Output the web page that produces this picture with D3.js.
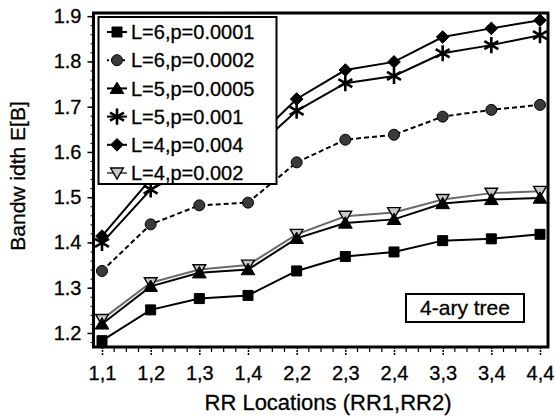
<!DOCTYPE html>
<html>
<head>
<meta charset="utf-8">
<script src="https://cdn.jsdelivr.net/npm/d3@7"></script>
<style>
  body { margin: 0; background: #fff; }
  svg { display: block; font-family: "Liberation Sans", Arial, sans-serif; }
</style>
</head>
<body>
<script>
// RR location pairs on the x axis
var categories = ["1,1", "1,2", "1,3", "1,4", "2,2", "2,3", "2,4", "3,3", "3,4", "4,4"];
var yTicks = [1.2, 1.3, 1.4, 1.5, 1.6, 1.7, 1.8, 1.9];

// series values
var sqVals   = [1.183, 1.251, 1.276, 1.283, 1.337, 1.369, 1.379, 1.404, 1.408, 1.418];
var circVals = [1.337, 1.440, 1.482, 1.488, 1.577, 1.627, 1.638, 1.678, 1.693, 1.704];
var triVals  = [1.220, 1.303, 1.333, 1.340, 1.409, 1.443, 1.451, 1.486, 1.495, 1.498];
var starVals = [1.399, 1.517, 1.575, 1.593, 1.691, 1.752, 1.768, 1.818, 1.836, 1.858];
var diaVals  = [1.414, 1.540, 1.595, 1.613, 1.717, 1.781, 1.799, 1.854, 1.873, 1.891];
var invVals  = [1.230, 1.311, 1.340, 1.350, 1.418, 1.458, 1.466, 1.495, 1.509, 1.513];

var labels = ["L=6,p=0.0001", "L=6,p=0.0002", "L=5,p=0.0005", "L=5,p=0.001", "L=4,p=0.004", "L=4,p=0.002"];

var width = 555, height = 420;
var plotL = 93.5, plotR = 548, plotT = 13, plotB = 347;

var svg = d3.select("body").append("svg")
    .attr("width", width)
    .attr("height", height);

var x = d3.scalePoint().domain(categories).range([102, 540]);
var y = d3.scaleLinear().domain([1.169, 1.907]).range([plotB, plotT]);

// custom marker shapes
var asterisk = {
  draw: function(ctx, size) {
    var r = Math.sqrt(size) / 2;
    for (var k = 0; k < 3; k++) {
      var a = Math.PI / 2 + k * Math.PI / 3;
      ctx.moveTo(r * Math.cos(a), r * Math.sin(a));
      ctx.lineTo(-r * Math.cos(a), -r * Math.sin(a));
    }
  }
};
var invTriangle = {
  draw: function(ctx, size) {
    var h = Math.sqrt(size);
    ctx.moveTo(-h * 0.58, -h * 0.45);
    ctx.lineTo(h * 0.58, -h * 0.45);
    ctx.lineTo(0, h * 0.55);
    ctx.closePath();
  }
};
var upTriangle = {
  draw: function(ctx, size) {
    var h = Math.sqrt(size);
    ctx.moveTo(-h * 0.6, h * 0.45);
    ctx.lineTo(h * 0.6, h * 0.45);
    ctx.lineTo(0, -h * 0.55);
    ctx.closePath();
  }
};
var diamond = {
  draw: function(ctx, size) {
    var r = Math.sqrt(size) / 2;
    ctx.moveTo(0, -r);
    ctx.lineTo(r, 0);
    ctx.lineTo(0, r);
    ctx.lineTo(-r, 0);
    ctx.closePath();
  }
};

var series = [
  {name: labels[0], vals: sqVals,   sym: d3.symbolSquare, size: 100, fill: "#000", stroke: "#000", sw: 1,   line: "#000", dash: null},
  {name: labels[1], vals: circVals, sym: d3.symbolCircle, size: 95,  fill: "#3a3a3a", stroke: "#000", sw: 1, line: "#000", dash: "5,3"},
  {name: labels[2], vals: triVals,  sym: upTriangle,      size: 130, fill: "#000", stroke: "#000", sw: 1,   line: "#000", dash: null},
  {name: labels[3], vals: starVals, sym: asterisk,        size: 260, fill: "none", stroke: "#000", sw: 2.6, line: "#000", dash: null},
  {name: labels[4], vals: diaVals,  sym: diamond,         size: 160, fill: "#000", stroke: "#000", sw: 1,   line: "#000", dash: null},
  {name: labels[5], vals: invVals,  sym: invTriangle,     size: 120, fill: "#c8c8c8", stroke: "#000", sw: 1.4, line: "#6a6a6a", dash: null}
];

// y axis: minor then major ticks
var minorY = d3.range(1.18, 1.905, 0.02).map(function(d) { return +d.toFixed(2); });
svg.append("g")
    .attr("transform", "translate(" + plotL + ",0)")
    .call(d3.axisLeft(y).tickValues(minorY).tickSize(3).tickFormat(""))
    .call(function(g) { g.select(".domain").remove(); });

var yAxis = svg.append("g")
    .attr("transform", "translate(" + plotL + ",0)")
    .call(d3.axisLeft(y).tickValues(yTicks).tickSize(6).tickPadding(6).tickFormat(d3.format(".1f")));
yAxis.select(".domain").remove();
yAxis.selectAll(".tick line").attr("stroke-width", 1.5);
yAxis.selectAll("text").attr("font-size", 20).attr("fill", "#000")
    .attr("stroke", "#000").attr("stroke-width", 0.3)
    .attr("font-family", "Liberation Sans, Arial, sans-serif");

// x axis: quarter-step minor ticks
var step = x.step();
var minorX = [];
categories.forEach(function(c, i) {
  if (i < categories.length - 1) {
    for (var k = 1; k < 4; k++) minorX.push(x(c) + k * step / 4);
  }
});
svg.append("g").selectAll("line")
    .data(minorX)
    .enter().append("line")
    .attr("x1", function(d) { return d; })
    .attr("x2", function(d) { return d; })
    .attr("y1", plotB)
    .attr("y2", plotB + 5)
    .attr("stroke", "#000")
    .attr("stroke-width", 1.2);

var xAxis = svg.append("g")
    .attr("transform", "translate(0," + plotB + ")")
    .call(d3.axisBottom(x).tickSize(9).tickPadding(10));
xAxis.select(".domain").remove();
xAxis.selectAll(".tick line").attr("stroke-width", 1.5).attr("stroke-dasharray", "2,1");
xAxis.selectAll("text").attr("font-size", 20).attr("fill", "#000")
    .attr("stroke", "#000").attr("stroke-width", 0.3)
    .attr("font-family", "Liberation Sans, Arial, sans-serif");

// lines
var line = d3.line()
    .x(function(d, i) { return x(categories[i]); })
    .y(function(d) { return y(d); });

var order = [0, 1, 5, 2, 3, 4];
order.forEach(function(si) {
  var s = series[si];
  svg.append("path")
      .datum(s.vals)
      .attr("d", line)
      .attr("fill", "none")
      .attr("stroke", s.line)
      .attr("stroke-width", 2)
      .attr("stroke-dasharray", s.dash);
});

// markers
order.forEach(function(si) {
  var s = series[si];
  svg.append("g").selectAll("path")
      .data(s.vals)
      .enter().append("path")
      .attr("transform", function(d, i) { return "translate(" + x(categories[i]) + "," + y(d) + ")"; })
      .attr("d", d3.symbol().type(s.sym).size(s.size))
      .attr("fill", s.fill)
      .attr("stroke", s.stroke)
      .attr("stroke-width", s.sw);
});

// frame
svg.append("rect")
    .attr("x", plotL)
    .attr("y", plotT)
    .attr("width", plotR - plotL)
    .attr("height", plotB - plotT)
    .attr("fill", "none")
    .attr("stroke", "#000")
    .attr("stroke-width", 3);

// legend
var lg = svg.append("g");
lg.append("rect")
    .attr("x", 98.5)
    .attr("y", 17)
    .attr("width", 178)
    .attr("height", 167)
    .attr("fill", "#fff")
    .attr("stroke", "#000")
    .attr("stroke-width", 2);

var rows = lg.selectAll(".row")
    .data(series)
    .enter().append("g")
    .attr("class", "row")
    .attr("transform", function(d, i) { return "translate(0," + (32 + i * 28.2) + ")"; });

rows.append("line")
    .attr("x1", 107).attr("x2", 127)
    .attr("stroke", function(d) { return d.line; })
    .attr("stroke-width", 2)
    .attr("stroke-dasharray", function(d) { return d.dash ? "2,2" : null; });

rows.append("path")
    .attr("transform", "translate(117,0)")
    .attr("d", function(d) { return d3.symbol().type(d.sym).size(d.size)(); })
    .attr("fill", function(d) { return d.fill; })
    .attr("stroke", function(d) { return d.stroke; })
    .attr("stroke-width", function(d) { return d.sw; });

rows.append("text")
    .attr("x", 131)
    .attr("dy", "0.36em")
    .attr("font-size", 20)
    .attr("stroke", "#000")
    .attr("stroke-width", 0.3)
    .text(function(d) { return d.name; });

// annotation box
svg.append("rect")
    .attr("x", 406)
    .attr("y", 294)
    .attr("width", 118)
    .attr("height", 28)
    .attr("fill", "#fff")
    .attr("stroke", "#000")
    .attr("stroke-width", 2);
svg.append("text")
    .attr("x", 465)
    .attr("y", 315)
    .attr("text-anchor", "middle")
    .attr("font-size", 21)
    .attr("stroke", "#000")
    .attr("stroke-width", 0.3)
    .text("4-ary tree");

// axis titles
svg.append("text")
    .attr("x", 328)
    .attr("y", 410)
    .attr("text-anchor", "middle")
    .attr("font-size", 22)
    .attr("stroke", "#000")
    .attr("stroke-width", 0.3)
    .text("RR Locations (RR1,RR2)");

svg.append("text")
    .attr("transform", "translate(25,176) rotate(-90)")
    .attr("text-anchor", "middle")
    .attr("font-size", 21)
    .attr("stroke", "#000")
    .attr("stroke-width", 0.3)
    .text("Bandw idth E[B]");
</script>
</body>
</html>
